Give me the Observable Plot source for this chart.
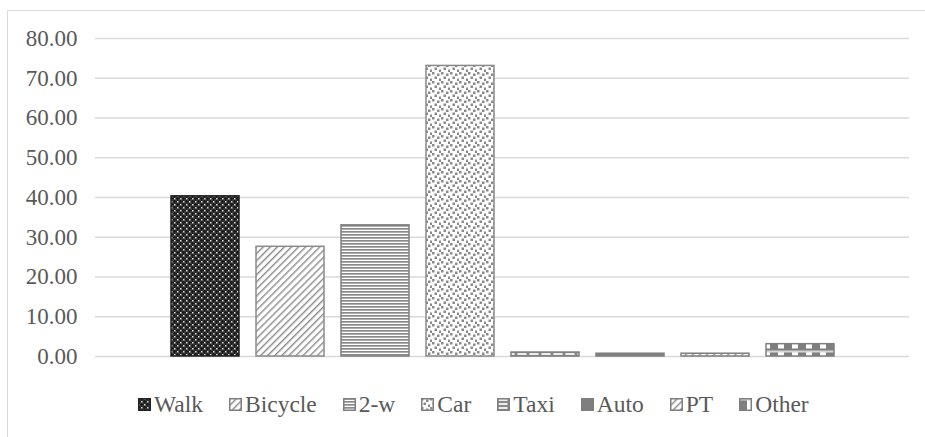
<!DOCTYPE html>
<html>
<head>
<meta charset="utf-8">
<script src="https://cdn.jsdelivr.net/npm/d3@7"></script>
<script src="https://cdn.jsdelivr.net/npm/@observablehq/plot@0.6"></script>
<style>
  html, body { margin: 0; padding: 0; background: #fff; }
  #wrap { position: relative; width: 925px; height: 437px; overflow: hidden; font-family: "Liberation Serif", "Times New Roman", serif; }
  #frame { position: absolute; left: 7px; top: 10px; width: 940px; height: 460px; border: 1.5px solid #d9d9d9; box-sizing: border-box; }
  #chart { position: absolute; left: 0; top: 0; }
  #legend { position: absolute; left: 138px; top: 391px; display: flex; align-items: center; gap: 26px; font-size: 23.5px; color: #595959; white-space: nowrap; }
  .item { display: flex; align-items: center; gap: 3px; }
  .item svg { display: block; }
</style>
</head>
<body>
<svg width="0" height="0" style="position:absolute">
  <defs>
    <pattern id="p-walk" width="6" height="6" patternUnits="userSpaceOnUse">
      <rect width="6" height="6" fill="#1a1a1a"/>
      <rect x="0" y="0" width="1.5" height="1.5" fill="#e5e5e5"/>
      <rect x="3" y="3" width="1.5" height="1.5" fill="#e5e5e5"/>
      <rect x="1.5" y="1.5" width="1" height="1" fill="#888"/>
      <rect x="4.5" y="4.5" width="1" height="1" fill="#888"/>
      <rect x="4.5" y="1.5" width="1" height="1" fill="#888"/>
      <rect x="1.5" y="4.5" width="1" height="1" fill="#888"/>
    </pattern>
    <pattern id="p-diag" width="5" height="5" patternUnits="userSpaceOnUse" patternTransform="rotate(45)">
      <rect width="5" height="5" fill="#fff"/>
      <rect x="0" y="0" width="1.4" height="5" fill="#8a8a8a"/>
    </pattern>
    <pattern id="p-horiz" width="4" height="3" patternUnits="userSpaceOnUse">
      <rect width="4" height="3" fill="#fff"/>
      <rect x="0" y="0" width="4" height="1.7" fill="#8a8a8a"/>
    </pattern>
    <pattern id="p-confetti" width="9" height="9" patternUnits="userSpaceOnUse">
      <rect width="9" height="9" fill="#fff"/>
      <rect x="0" y="0" width="2.5" height="2.5" fill="#8a8a8a"/>
      <rect x="5" y="1.5" width="2.5" height="2.5" fill="#8a8a8a"/>
      <rect x="2.5" y="4.5" width="2.5" height="2.5" fill="#8a8a8a"/>
      <rect x="7" y="6.5" width="2.5" height="2.5" fill="#8a8a8a"/>
    </pattern>
    <pattern id="p-dash" width="12" height="4" patternUnits="userSpaceOnUse">
      <rect width="12" height="4" fill="#8a8a8a"/>
      <rect x="1.5" y="1" width="9" height="2" fill="#eee"/>
    </pattern>
    <pattern id="p-solid" width="4" height="4" patternUnits="userSpaceOnUse">
      <rect width="4" height="4" fill="#7f7f7f"/>
    </pattern>
    <pattern id="p-check" width="14" height="14" patternUnits="userSpaceOnUse" y="0.5">
      <rect width="14" height="14" fill="#7f7f7f"/>
      <rect x="0" y="0" width="14" height="2" fill="#d8d8d8"/>
      <rect x="8" y="2" width="6" height="10" fill="#fff"/>
    </pattern>
  </defs>
</svg>
<div id="wrap">
  <div id="frame"></div>
  <div id="chart"></div>
  <div id="legend"></div>
</div>
<script>
const modes = ["Walk", "Bicycle", "2-w", "Car", "Taxi", "Auto", "PT", "Other"];
const shares = [40.3, 27.6, 33.0, 73.1, 1.0, 0.7, 0.7, 3.1];
const yTicks = [0, 10, 20, 30, 40, 50, 60, 70, 80];
const patternIds = ["p-walk", "p-diag", "p-horiz", "p-confetti", "p-dash", "p-solid", "p-diag", "p-check"];
const strokes = ["#222", "#8a8a8a", "#7f7f7f", "#8a8a8a", "#7f7f7f", "#7f7f7f", "#7f7f7f", "#7f7f7f"];

const data = modes.map((m, i) => ({mode: m, value: shares[i]}));
const serif = "Liberation Serif, Times New Roman, serif";

const plot = Plot.plot({
  width: 925,
  height: 375,
  marginLeft: 95,
  marginRight: 16,
  marginTop: 38,
  marginBottom: 19,
  style: {fontFamily: serif, fontSize: "23px", color: "#595959", background: "transparent"},
  x: {domain: modes, paddingInner: 0.2, paddingOuter: 0.867, axis: null},
  y: {domain: [0, 80], axis: null},
  color: {type: "ordinal", domain: modes, range: patternIds.map(id => `url(#${id})`)},
  marks: [
    Plot.ruleY(yTicks, {stroke: "#d9d9d9", strokeWidth: 1.5}),
    Plot.barY(data, {
      x: "mode",
      y: "value",
      fill: "mode",
      stroke: d => strokes[modes.indexOf(d.mode)],
      strokeWidth: 1.5
    }),
    Plot.text(yTicks, {
      y: d => d,
      text: d => d3.format(".2f")(d),
      frameAnchor: "left",
      textAnchor: "end",
      dx: -18,
      fontFamily: serif,
      fontSize: 23,
      fill: "#595959"
    })
  ]
});
document.getElementById("chart").appendChild(plot);

const legend = document.getElementById("legend");
modes.forEach((m, i) => {
  const item = document.createElement("div");
  item.className = "item";
  item.innerHTML = `<svg width="13" height="13"><rect x="0.75" y="0.75" width="11.5" height="11.5" fill="url(#${patternIds[i]})" stroke="${i === 0 ? '#222' : '#7f7f7f'}" stroke-width="1.5"/></svg><span>${m}</span>`;
  legend.appendChild(item);
});
</script>
</body>
</html>
